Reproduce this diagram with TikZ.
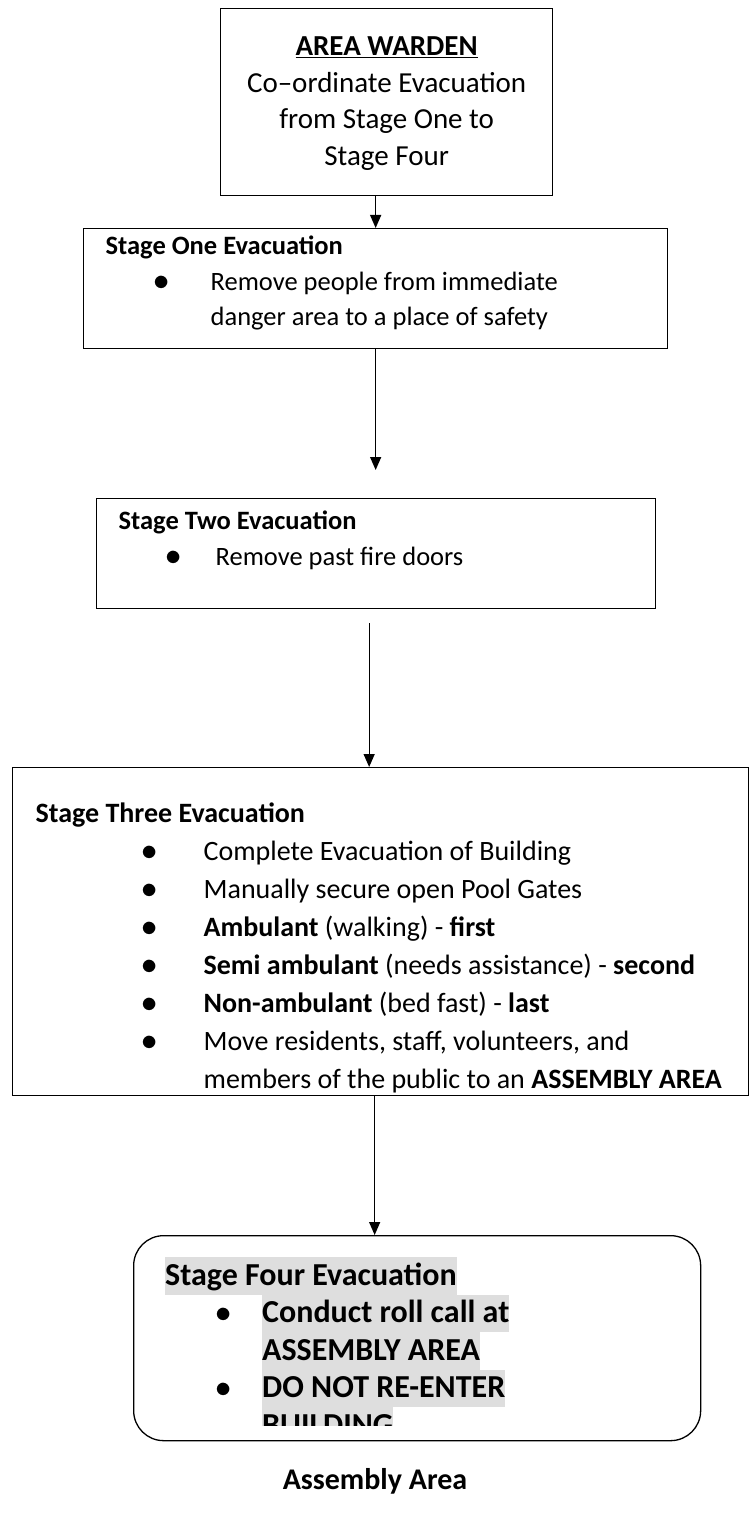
\documentclass[tikz,border=0pt]{standalone}
\usepackage{fontspec}
\setmainfont{Carlito}
\usetikzlibrary{arrows.meta,positioning}
\definecolor{hlgray}{rgb}{0.87,0.87,0.87}
\newcommand{\fl}{\rule{0pt}{22pt}}
\newcommand{\bdot}{\scalebox{1.3}{$\bullet$}}
\newcommand{\bline}[3]{\hspace*{#1}\makebox[#2][l]{\bdot}#3}
\newcommand{\hl}[1]{{\setlength{\fboxsep}{0pt}\colorbox{hlgray}{\rule[-9.5pt]{0pt}{37.5pt}#1}}}

\begin{document}
\begin{tikzpicture}[x=1pt, y=-1pt,
font=\fontsize{26.5pt}{36pt}\selectfont,
stagebox/.style = {draw, line width=1.3pt, anchor=north west,
                   inner sep=0pt},
Arrow/.style = {line width=1.3pt,
                -{Triangle[length=13pt,width=11pt]}},
                    ]
\useasboundingbox (0,0) rectangle (750,1522);

\node[stagebox] (warden) at (220,8)
  {\parbox[c][187pt][t]{332pt}{\fontsize{29pt}{36.5pt}\selectfont
   \centering\vspace*{25pt}%
   \fl\underline{\textbf{AREA WARDEN}}\\
   Co–ordinate Evacuation\\
   from Stage One to\\
   Stage Four}};

\node[stagebox] (one) at (83,228)
  {\parbox[c][120pt][t]{584pt}{\vspace*{4pt}%
   \fl\hspace*{22pt}\textbf{Stage One Evacuation}\\
   \bline{70pt}{57pt}{Remove people from immediate}\\[-1pt]
   \hspace*{127pt}danger area to a place of safety}};

\node[stagebox] (two) at (96,498)
  {\parbox[c][110pt][t]{559pt}{\vspace*{9pt}%
   \fl\hspace*{22pt}\textbf{Stage Two Evacuation}\\
   \bline{69pt}{50pt}{Remove past fire doors}}};

\node[stagebox] (three) at (12,767)
  {\parbox[c][328pt][t]{736pt}{\fontsize{28pt}{38pt}\selectfont
   \vspace*{33pt}%
   \fl\hspace*{23pt}\textbf{Stage Three Evacuation}\\
   \bline{129pt}{62pt}{Complete Evacuation of Building}\\
   \bline{129pt}{62pt}{Manually secure open Pool Gates}\\
   \bline{129pt}{62pt}{\textbf{Ambulant} (walking) - \textbf{first}}\\
   \bline{129pt}{62pt}{\textbf{Semi ambulant} (needs assistance) - \textbf{second}}\\
   \bline{129pt}{62pt}{\textbf{Non-ambulant} (bed fast) - \textbf{last}}\\
   \bline{129pt}{62pt}{Move residents, staff, volunteers, and}\\
   \hspace*{191pt}members of the public to an \textbf{ASSEMBLY AREA}}};

\node[stagebox, rounded corners=30pt,
      minimum width=567pt, minimum height=205pt] (four) at (133,1235) {};
\begin{scope}
\clip (four.north west) rectangle ([yshift=16pt]four.south east);
\node[anchor=north west, inner sep=0pt] (fourtext)
  at ([xshift=32pt,yshift=-22pt]four.north west)
  {\parbox[t]{520pt}{\fontsize{32pt}{37.5pt}\selectfont\bfseries
   \hl{Stage Four Evacuation}\\
   \bline{50pt}{47pt}{\hl{Conduct roll call at}}\\
   \hspace*{97pt}\hl{ASSEMBLY AREA}\\
   \bline{50pt}{47pt}{\hl{DO NOT RE-ENTER}}\\
   \hspace*{97pt}\hl{BUILDING}}};
\end{scope}

\node (assembly) at (375,1481)
  {\fontsize{30pt}{36pt}\selectfont\textbf{Assembly Area}};

\draw[Arrow] ([xshift=-11pt]warden.south) coordinate (a1)
             -- (one.north -| a1);
\draw[Arrow] (one.south) coordinate (a2)
             -- ([yshift=28pt]two.north -| a2);
\draw[Arrow] ([xshift=-7pt,yshift=-14pt]two.south) coordinate (a3)
             -- (three.north -| a3);
\draw[Arrow] ([xshift=-6pt]three.south) coordinate (a4)
             -- (four.north -| a4);
\end{tikzpicture}
\end{document}
